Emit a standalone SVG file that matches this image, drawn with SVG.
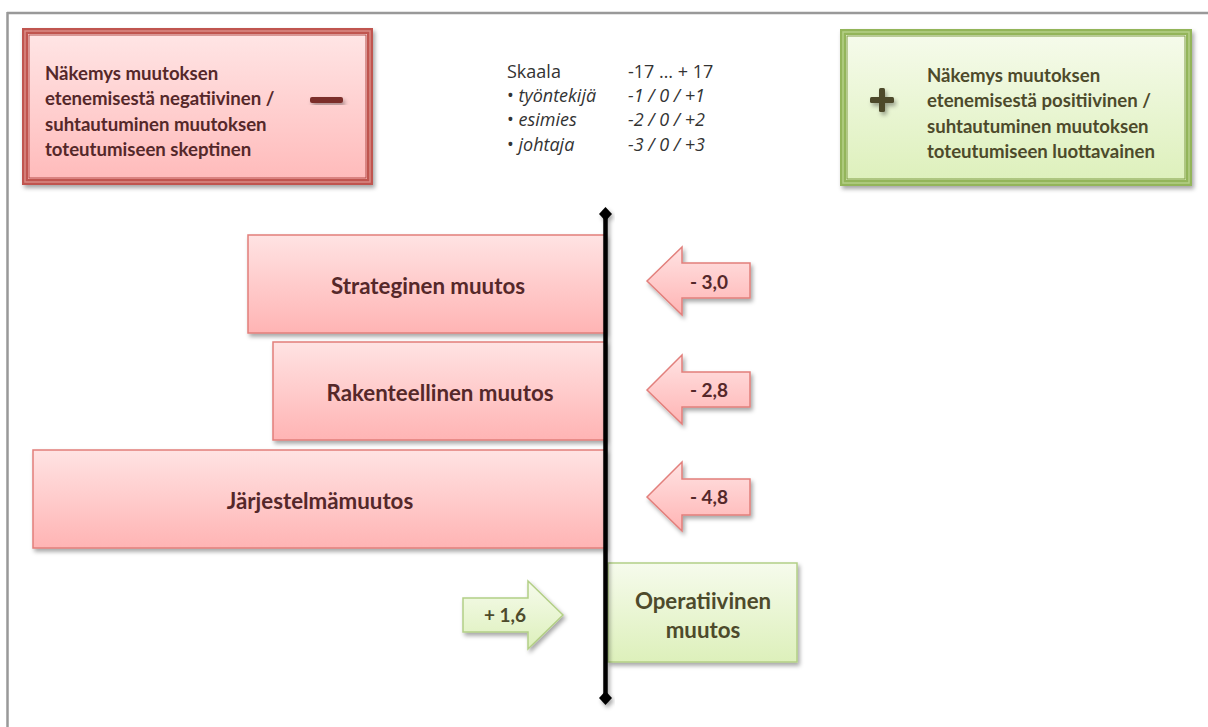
<svg xmlns="http://www.w3.org/2000/svg" width="1208" height="727" viewBox="0 0 1208 727">
  <defs>
    <linearGradient id="pinkFill" x1="0" y1="0" x2="0" y2="1">
      <stop offset="0" stop-color="#ffe3e3"/>
      <stop offset="1" stop-color="#ffb4b4"/>
    </linearGradient>
    <linearGradient id="pinkBox" x1="0" y1="0" x2="0" y2="1">
      <stop offset="0" stop-color="#ffe6e6"/>
      <stop offset="1" stop-color="#ffbaba"/>
    </linearGradient>
    <linearGradient id="greenFill" x1="0" y1="0" x2="0" y2="1">
      <stop offset="0" stop-color="#f6fbec"/>
      <stop offset="1" stop-color="#ddf0bb"/>
    </linearGradient>
    <filter id="shadow" x="-10%" y="-10%" width="130%" height="140%">
      <feDropShadow dx="2" dy="3" stdDeviation="2" flood-color="#000" flood-opacity="0.35"/>
    </filter>
    <style>
      .title { font-family: Lato, "Open Sans", sans-serif; font-weight: bold; font-size: 18.6px; }
      .neg { fill: #55282a; }
      .pos { fill: #4d4a2b; }
      .bar { fill: url(#pinkFill); stroke: #e27f7b; stroke-width: 1.5; filter: url(#shadow); }
      .gbar { fill: url(#greenFill); stroke: #b3cf86; stroke-width: 1.5; filter: url(#shadow); }
      .barLabel { font-family: Lato, "Open Sans", sans-serif; font-weight: bold; font-size: 22.3px; text-anchor: middle; }
      .arrowLabel { font-family: Lato, "Open Sans", sans-serif; font-weight: bold; font-size: 19px; text-anchor: middle; }
      .scale { font-family: "Open Sans", Lato, sans-serif; font-size: 18px; fill: #333; }
      .it { font-style: italic; }
    </style>
  </defs>

  <rect width="1208" height="727" fill="#ffffff"/>

  <!-- page frame -->
  <g id="frame" stroke="#999999" stroke-width="2.5" fill="none">
    <line x1="7" y1="13" x2="1208" y2="13"/>
    <line x1="7.5" y1="12" x2="7.5" y2="727"/>
  </g>

  <!-- negative legend box -->
  <g id="legend-negative">
    <rect x="25" y="31" width="345" height="151" fill="url(#pinkBox)" stroke="#c0544f" stroke-width="6" filter="url(#shadow)"/>
    <rect x="25" y="31" width="345" height="151" fill="none" stroke="#d98b85" stroke-width="1.5"/>
    <rect x="29" y="35" width="337" height="143" fill="none" stroke="#b44a46" stroke-width="1"/>
    <text class="title neg" x="45" y="80">Näkemys muutoksen</text>
    <text class="title neg" x="45" y="105">etenemisestä negatiivinen /</text>
    <text class="title neg" x="45" y="131">suhtautuminen muutoksen</text>
    <text class="title neg" x="45" y="156">toteutumiseen skeptinen</text>
    <rect x="310" y="97" width="33" height="6" rx="2" fill="#7b2e2c" filter="url(#shadow)"/>
  </g>

  <!-- scale legend -->
  <g id="scale">
    <text class="scale" x="507" y="78">Skaala</text>
    <text class="scale" x="628" y="78">-17 … + 17</text>
    <text class="scale" x="507" y="102">• <tspan class="it">työntekijä</tspan></text>
    <text class="scale it" x="628" y="102">-1 / 0 / +1</text>
    <text class="scale" x="507" y="126">• <tspan class="it">esimies</tspan></text>
    <text class="scale it" x="628" y="126">-2 / 0 / +2</text>
    <text class="scale" x="507" y="151">• <tspan class="it">johtaja</tspan></text>
    <text class="scale it" x="628" y="151">-3 / 0 / +3</text>
  </g>

  <!-- positive legend box -->
  <g id="legend-positive">
    <rect x="843" y="32" width="346" height="151" fill="url(#greenFill)" stroke="#93b55a" stroke-width="6" filter="url(#shadow)"/>
    <rect x="843" y="32" width="346" height="151" fill="none" stroke="#b5cf88" stroke-width="1.5"/>
    <rect x="847" y="36" width="338" height="143" fill="none" stroke="#7f9c45" stroke-width="1"/>
    <text class="title pos" x="927" y="82">Näkemys muutoksen</text>
    <text class="title pos" x="927" y="107">etenemisestä positiivinen /</text>
    <text class="title pos" x="927" y="133">suhtautuminen muutoksen</text>
    <text class="title pos" x="927" y="158">toteutumiseen luottavainen</text>
    <g filter="url(#shadow)" fill="#4e4a2c">
      <rect x="870" y="97" width="24" height="6" rx="1.5"/>
      <rect x="879" y="88" width="6" height="24" rx="1.5"/>
    </g>
  </g>

  <!-- change bars -->
  <g id="bar-strateginen">
    <rect class="bar" x="248" y="235" width="357" height="98"/>
    <text class="barLabel neg" x="428" y="294">Strateginen muutos</text>
  </g>
  <g id="bar-rakenteellinen">
    <rect class="bar" x="273" y="342" width="332" height="98"/>
    <text class="barLabel neg" x="440" y="401">Rakenteellinen muutos</text>
  </g>
  <g id="bar-jarjestelma">
    <rect class="bar" x="33" y="450" width="572" height="98"/>
    <text class="barLabel neg" x="320" y="509">Järjestelmämuutos</text>
  </g>
  <g id="bar-operatiivinen">
    <rect class="gbar" x="608" y="563" width="189" height="99"/>
    <text class="barLabel pos" x="703" y="609">Operatiivinen</text>
    <text class="barLabel pos" x="703" y="638">muutos</text>
  </g>

  <!-- score arrows -->
  <g id="arrow-strateginen">
    <path class="bar" d="M647,281 L682,247 L682,263 L750,263 L750,298 L682,298 L682,315 Z"/>
    <text class="arrowLabel neg" x="709" y="289">- 3,0</text>
  </g>
  <g id="arrow-rakenteellinen">
    <path class="bar" d="M647,390 L682,355 L682,372 L750,372 L750,407 L682,407 L682,424 Z"/>
    <text class="arrowLabel neg" x="709" y="397">- 2,8</text>
  </g>
  <g id="arrow-jarjestelma">
    <path class="bar" d="M647,497 L682,462 L682,479 L750,479 L750,515 L682,515 L682,531 Z"/>
    <text class="arrowLabel neg" x="709" y="504">- 4,8</text>
  </g>
  <g id="arrow-operatiivinen">
    <path class="gbar" d="M463,598 L528,598 L528,581 L563,615 L528,649 L528,632 L463,632 Z"/>
    <text class="arrowLabel pos" x="505" y="622">+ 1,6</text>
  </g>

  <!-- zero axis -->
  <g id="connectors" filter="url(#shadow)">
    <line x1="605.5" y1="214" x2="605.5" y2="697" stroke="#000" stroke-width="4.5"/>
    <path d="M605.5,207 L612,214 L605.5,221 L599,214 Z" fill="#000"/>
    <path d="M605.5,691 L612,698 L605.5,705 L599,698 Z" fill="#000"/>
  </g>
</svg>
